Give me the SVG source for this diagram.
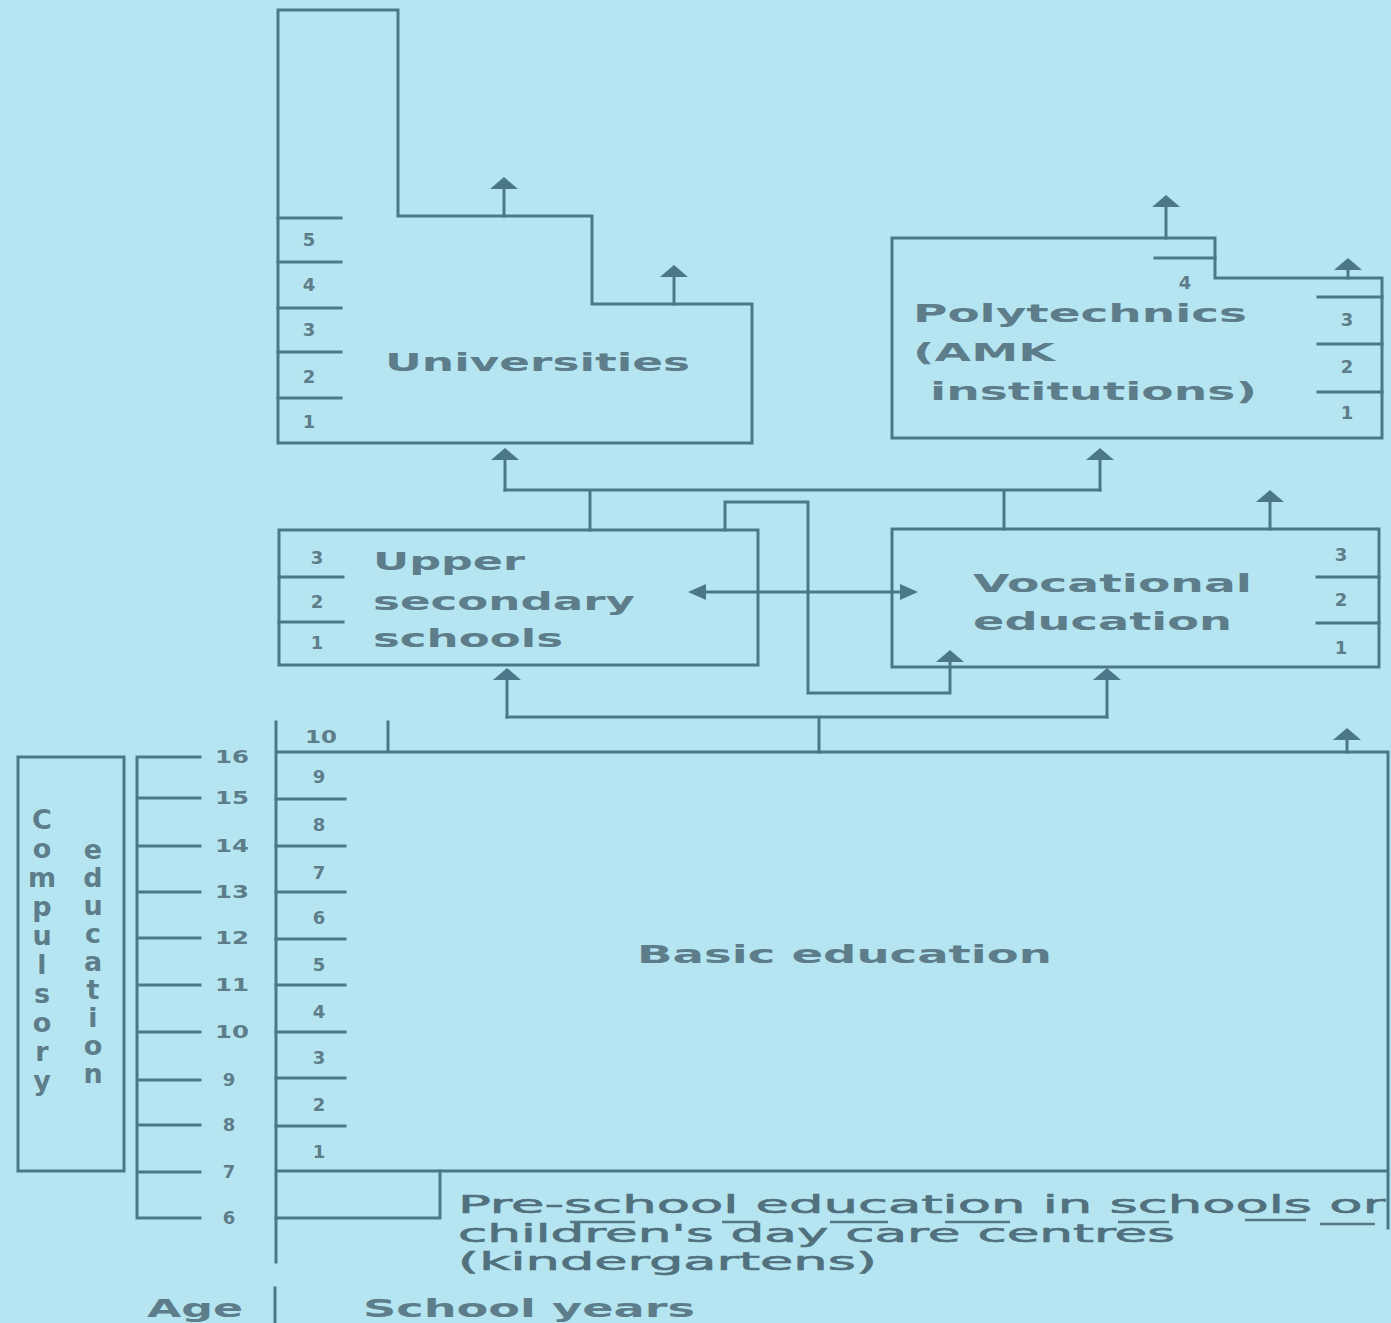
<svg xmlns="http://www.w3.org/2000/svg" width="1391" height="1323" viewBox="0 0 1391 1323">
<style>
.ln{fill:none;stroke:#4b7888;stroke-width:3;stroke-linecap:square}
.lbl{font-family:"DejaVu Sans","Liberation Sans",sans-serif;font-weight:bold;font-size:25px;fill:#5d7d8a}
.pre{font-family:"DejaVu Sans","Liberation Sans",sans-serif;font-size:24px;fill:#52717e;stroke:#52717e;stroke-width:0.6}
.num{font-family:"DejaVu Sans","Liberation Sans",sans-serif;font-weight:bold;font-size:18px;fill:#5d7d8a;text-anchor:middle}
.vert{font-family:"DejaVu Sans","Liberation Sans",sans-serif;font-weight:bold;font-size:27px;fill:#5d7d8a;text-anchor:middle}
.art{stroke:#587885;stroke-width:2.5}
</style>
<defs>
<marker id="hat" viewBox="0 0 12 28" refX="3" refY="14" markerWidth="12" markerHeight="28" markerUnits="userSpaceOnUse" orient="auto"><path d="M0,0 L12,14 L0,28 Z" fill="#4b7888"/></marker>
<marker id="tri" viewBox="0 0 18 16" refX="4" refY="8" markerWidth="18" markerHeight="16" markerUnits="userSpaceOnUse" orient="auto-start-reverse"><path d="M0,0 L18,8 L0,16 Z" fill="#4b7888"/></marker>
</defs>
<rect x="0" y="0" width="1391" height="1323" fill="#b5e5f1"/>

<g id="universities">
<path class="ln" d="M278,10 H398 V216 H592 V304 H752 V443 H278 Z"/>
<path class="ln" d="M278,218 H341 M278,262 H341 M278,308 H341 M278,352 H341 M278,398 H341"/>
<text class="num" x="309" y="246">5</text>
<text class="num" x="309" y="291">4</text>
<text class="num" x="309" y="336">3</text>
<text class="num" x="309" y="383">2</text>
<text class="num" x="309" y="428">1</text>
<text class="lbl" x="385" y="371" textLength="305" lengthAdjust="spacingAndGlyphs">Universities</text>
</g>

<g id="polytechnics">
<path class="ln" d="M892,238 H1215 V278 H1382 V438 H892 Z"/>
<path class="ln" d="M1155,258 H1215 M1318,297 H1382 M1318,344 H1382 M1318,392 H1382"/>
<text class="num" x="1185" y="289">4</text>
<text class="num" x="1347" y="326">3</text>
<text class="num" x="1347" y="373">2</text>
<text class="num" x="1347" y="419">1</text>
<text class="lbl" x="913" y="322" textLength="334" lengthAdjust="spacingAndGlyphs">Polytechnics</text>
<text class="lbl" x="913" y="361" textLength="142" lengthAdjust="spacingAndGlyphs">(AMK</text>
<text class="lbl" x="930" y="400" textLength="327" lengthAdjust="spacingAndGlyphs">institutions)</text>
</g>

<g id="upper-secondary">
<rect class="ln" x="279" y="530" width="479" height="135"/>
<path class="ln" d="M279,577 H343 M279,622 H343"/>
<text class="num" x="317" y="564">3</text>
<text class="num" x="317" y="608">2</text>
<text class="num" x="317" y="649">1</text>
<text class="lbl" x="373" y="570" textLength="152" lengthAdjust="spacingAndGlyphs">Upper</text>
<text class="lbl" x="373" y="610" textLength="262" lengthAdjust="spacingAndGlyphs">secondary</text>
<text class="lbl" x="373" y="647" textLength="190" lengthAdjust="spacingAndGlyphs">schools</text>
</g>

<g id="vocational">
<rect class="ln" x="892" y="529" width="487" height="138"/>
<path class="ln" d="M1317,577 H1379 M1317,623 H1379"/>
<text class="num" x="1341" y="561">3</text>
<text class="num" x="1341" y="606">2</text>
<text class="num" x="1341" y="654">1</text>
<text class="lbl" x="973" y="592" textLength="279" lengthAdjust="spacingAndGlyphs">Vocational</text>
<text class="lbl" x="973" y="630" textLength="259" lengthAdjust="spacingAndGlyphs">education</text>
</g>

<g id="basic-education">
<path class="ln" d="M276,722 V1262 M388,722 V752 M276,752 H1388 V1228 M276,1171 H1388"/>
<path class="ln" d="M276,799 H345 M276,846 H345 M276,892 H345 M276,939 H345 M276,985 H345 M276,1032 H345 M276,1078 H345 M276,1126 H345"/>
<text class="num" x="321" y="743" textLength="32" lengthAdjust="spacingAndGlyphs">10</text>
<text class="num" x="319" y="783">9</text>
<text class="num" x="319" y="831">8</text>
<text class="num" x="319" y="879">7</text>
<text class="num" x="319" y="924">6</text>
<text class="num" x="319" y="971">5</text>
<text class="num" x="319" y="1018">4</text>
<text class="num" x="319" y="1064">3</text>
<text class="num" x="319" y="1111">2</text>
<text class="num" x="319" y="1158">1</text>
<text class="lbl" x="637" y="963" textLength="415" lengthAdjust="spacingAndGlyphs">Basic education</text>
</g>

<g id="pre-school">
<path class="ln" d="M276,1218 H440 V1171"/>
<text class="pre" x="458" y="1213" textLength="927" lengthAdjust="spacingAndGlyphs">Pre-school education in schools or</text>
<text class="pre" x="458" y="1242" textLength="717" lengthAdjust="spacingAndGlyphs">children's day care centres</text>
<text class="pre" x="458" y="1270" textLength="419" lengthAdjust="spacingAndGlyphs">(kindergartens)</text>
<path class="art" d="M570,1222 H635 M722,1222 H758 M830,1222 H888 M945,1222 H1010 M1118,1222 H1169 M1245,1220 H1306 M1320,1224 H1375"/>
</g>

<g id="compulsory-education">
<rect class="ln" x="18" y="757" width="106" height="414"/>
<text class="vert"><tspan x="42" y="829">C</tspan><tspan x="42" y="858">o</tspan><tspan x="42" y="887">m</tspan><tspan x="42" y="916">p</tspan><tspan x="42" y="945">u</tspan><tspan x="42" y="974">l</tspan><tspan x="42" y="1003">s</tspan><tspan x="42" y="1032">o</tspan><tspan x="42" y="1061">r</tspan><tspan x="42" y="1090">y</tspan></text>
<text class="vert"><tspan x="93" y="859">e</tspan><tspan x="93" y="887">d</tspan><tspan x="93" y="915">u</tspan><tspan x="93" y="943">c</tspan><tspan x="93" y="971">a</tspan><tspan x="93" y="999">t</tspan><tspan x="93" y="1027">i</tspan><tspan x="93" y="1055">o</tspan><tspan x="93" y="1083">n</tspan></text>
</g>

<g id="age-scale">
<path class="ln" d="M137,757 V1218 M137,757 H200 M137,798 H200 M137,846 H200 M137,892 H200 M137,938 H200 M137,985 H200 M137,1032 H200 M137,1080 H200 M137,1125 H200 M137,1172 H200 M137,1218 H200"/>
<text class="num" x="232" y="763" textLength="34" lengthAdjust="spacingAndGlyphs">16</text>
<text class="num" x="232" y="804" textLength="34" lengthAdjust="spacingAndGlyphs">15</text>
<text class="num" x="232" y="852" textLength="34" lengthAdjust="spacingAndGlyphs">14</text>
<text class="num" x="232" y="898" textLength="34" lengthAdjust="spacingAndGlyphs">13</text>
<text class="num" x="232" y="944" textLength="34" lengthAdjust="spacingAndGlyphs">12</text>
<text class="num" x="232" y="991" textLength="34" lengthAdjust="spacingAndGlyphs">11</text>
<text class="num" x="232" y="1038" textLength="34" lengthAdjust="spacingAndGlyphs">10</text>
<text class="num" x="229" y="1086">9</text>
<text class="num" x="229" y="1131">8</text>
<text class="num" x="229" y="1178">7</text>
<text class="num" x="229" y="1224">6</text>
<path class="ln" d="M275,1288 V1323"/>
<text class="lbl" x="147" y="1317" textLength="96" lengthAdjust="spacingAndGlyphs">Age</text>
<text class="lbl" x="363" y="1317" textLength="332" lengthAdjust="spacingAndGlyphs">School years</text>
</g>

<g id="connectors">
<path class="ln" marker-end="url(#hat)" d="M504,216 V186"/>
<path class="ln" marker-end="url(#hat)" d="M674,304 V274"/>
<path class="ln" marker-end="url(#hat)" d="M1166,238 V204"/>
<path class="ln" marker-end="url(#hat)" d="M1348,278 V267"/>
<path class="ln" marker-end="url(#hat)" d="M1270,529 V499"/>
<path class="ln" marker-end="url(#hat)" d="M1347,752 V737"/>
<path class="ln" d="M505,490 H1100 M590,530 V490 M1004,529 V490"/>
<path class="ln" marker-end="url(#hat)" d="M505,490 V457"/>
<path class="ln" marker-end="url(#hat)" d="M1100,490 V457"/>
<path class="ln" marker-end="url(#hat)" d="M725,530 V502 H808 V693 H950 V659"/>
<path class="ln" marker-start="url(#tri)" marker-end="url(#tri)" d="M702,592 H904"/>
<path class="ln" d="M507,717 H1107 M819,752 V717"/>
<path class="ln" marker-end="url(#hat)" d="M507,717 V677"/>
<path class="ln" marker-end="url(#hat)" d="M1107,717 V677"/>
</g>
</svg>
